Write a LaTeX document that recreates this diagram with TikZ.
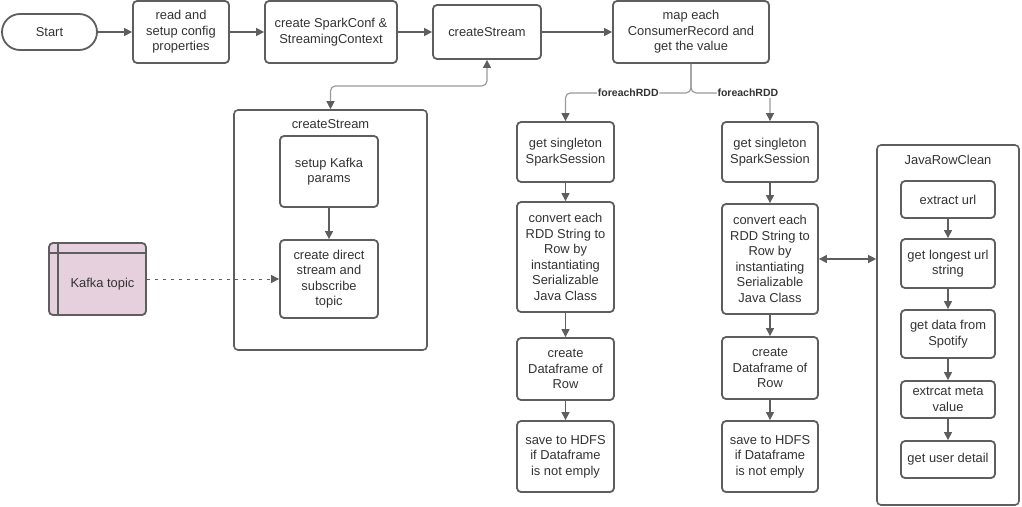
\documentclass[tikz,border=0pt]{standalone}
\usepackage{fontspec}
\setmainfont{Liberation Sans}
\usetikzlibrary{arrows.meta}
\definecolor{edge}{HTML}{5E5E5E}
\definecolor{txt}{HTML}{333333}
\definecolor{wire}{HTML}{9A9A9A}
\definecolor{kafkafill}{HTML}{E6D0DE}

\begin{document}
\begin{tikzpicture}[x=1pt,y=-1pt,
  sz/.style 2 args={minimum width=#1, minimum height=#2},
  box/.style={draw=edge, line width=1.8pt, rounded corners=4pt, fill=white,
    text=txt, align=center, inner sep=0pt,
    font=\fontsize{12.9}{15.5}\selectfont},
  frame/.style={draw=edge, line width=1.6pt, rounded corners=4pt, inner sep=0pt},
  title/.style={text=txt, font=\fontsize{12.9}{15.5}\selectfont, inner sep=0pt},
  tip/.style={-{Triangle[length=8pt,width=8pt]}},
  link/.style={draw=edge, line width=1.2pt, tip},
  wirelink/.style={draw=wire, line width=1.2pt, rounded corners=5pt,
    -{Triangle[length=8pt,width=8pt,color=edge]}},
  twoway/.style={draw=wire, line width=1.2pt, rounded corners=5pt,
    {Triangle[length=8pt,width=8pt,color=edge]}-{Triangle[length=8pt,width=8pt,color=edge]}},
  rddlabel/.style={fill=white, text=txt, inner sep=1pt,
    font=\fontsize{10.5}{11}\selectfont\bfseries}
]
\useasboundingbox (0,0) rectangle (1022,506);

% main pipeline
\node[box, sz={95}{36}, rounded corners=18pt] (start) at (49.5,32) {Start};
\node[box, sz={96}{62}] (read) at (181,32) {read and\\setup config\\properties};
\node[box, sz={132}{62}] (conf) at (331,32) {create SparkConf \&\\StreamingContext};
\node[box, sz={108}{54}] (cs) at (487,32) {createStream};
\node[box, sz={156}{62}] (map) at (691,32) {map each\\ConsumerRecord and\\get the value};

\draw[link] (start) -- (read);
\draw[link] (read) -- (conf);
\draw[link] (conf) -- (cs);
\draw[link] (cs) -- (map);

% createStream detail
\node[frame, sz={193}{240}] (csbox) at (330.5,230) {};
\node[title] (cstitle) at (330.5,124.5) {createStream};
\node[box, sz={98}{71}] (kparams) at (329,171.5) {setup Kafka\\params};
\node[box, sz={98}{78}] (direct) at (329,279) {create direct\\stream and\\subscribe\\topic};
\draw[link] (kparams) -- (direct);

\draw[twoway] (cs.south) -- ++(0,26) -| (csbox.north);

% Kafka topic source (table-like shape with header strip)
\node[box, sz={97}{72}, fill=kafkafill] (kafka) at (97.5,279) {\hspace{10pt}\rule{0pt}{19.5pt}Kafka topic};
\draw[edge, line width=1.8pt] ([yshift=-11pt]kafka.north west) -- ([yshift=-11pt]kafka.north east);
\draw[edge, line width=1.8pt] ([xshift=10pt]kafka.north west) -- ([xshift=10pt]kafka.south west);
\draw[draw=edge, line width=1pt, dash pattern=on 3pt off 5pt, tip] (kafka) -- (direct);

% left foreachRDD branch
\node[box, sz={97}{60}] (gs1) at (565.5,152) {get singleton\\SparkSession};
\node[box, sz={97}{110}] (cv1) at (565.5,257) {convert each\\RDD String to\\Row by\\instantiating\\Serializable\\Java Class};
\node[box, sz={97}{62}] (df1) at (565.5,369) {create\\Dataframe of\\Row};
\node[box, sz={97}{71}] (sv1) at (565.5,456.5) {save to HDFS\\if Dataframe\\is not emply};
\draw[link] (gs1) -- (cv1);
\draw[link] (cv1) -- (df1);
\draw[link] (df1) -- (sv1);

% right foreachRDD branch
\node[box, sz={96}{60}] (gs2) at (770,152) {get singleton\\SparkSession};
\node[box, sz={96}{110}] (cv2) at (770,259) {convert each\\RDD String to\\Row by\\instantiating\\Serializable\\Java Class};
\node[box, sz={96}{62}] (df2) at (770,368) {create\\Dataframe of\\Row};
\node[box, sz={96}{71}] (sv2) at (770,456.5) {save to HDFS\\if Dataframe\\is not emply};
\draw[link] (gs2) -- (cv2);
\draw[link] (cv2) -- (df2);
\draw[link] (df2) -- (sv2);

% split after the map step
\draw[wirelink] (map.south) -- ++(0,29) -| node[rddlabel, pos=0.25] {foreachRDD} (gs1.north);
\draw[wirelink] (map.south) -- ++(0,29) -| node[rddlabel, pos=0.36] {foreachRDD} (gs2.north);

% JavaRowClean detail
\node[frame, sz={142}{360}] (jbox) at (948,325) {};
\node[title] (jtitle) at (948,159.5) {JavaRowClean};
\node[box, sz={94}{37}] (url) at (948,199.5) {extract url};
\node[box, sz={94}{49}] (longest) at (948,263.5) {get longest url\\string};
\node[box, sz={94}{48}] (spotify) at (948,334) {get data from\\Spotify};
\node[box, sz={94}{37}] (meta) at (948,399.5) {extrcat meta\\value};
\node[box, sz={94}{37}] (user) at (948,459.5) {get user detail};
\draw[link] (url) -- (longest);
\draw[link] (longest) -- (spotify);
\draw[link] (spotify) -- (meta);
\draw[link] (meta) -- (user);

\draw[draw=edge, line width=1.2pt, {Triangle[length=8pt,width=8pt]}-{Triangle[length=8pt,width=8pt]}]
  (cv2.east) -- (cv2.east -| jbox.west);
\end{tikzpicture}
\end{document}
